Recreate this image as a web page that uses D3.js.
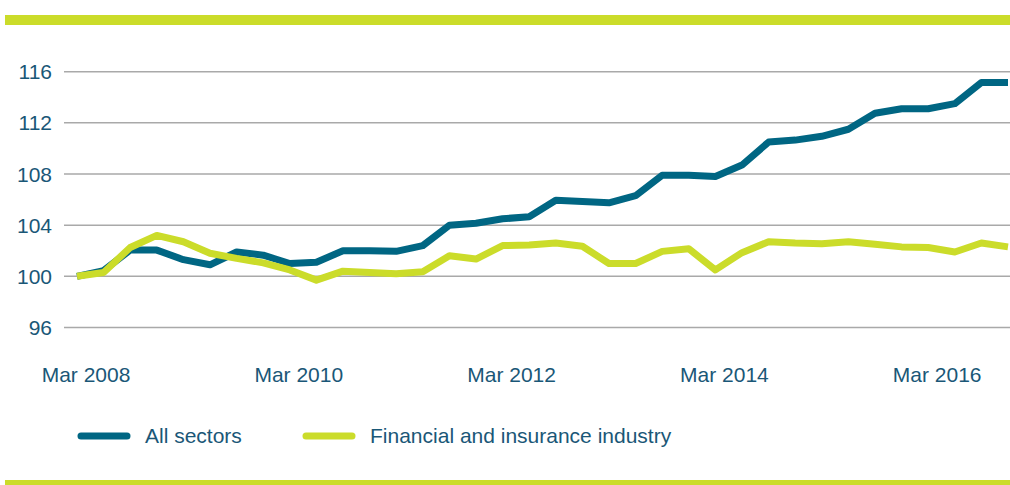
<!DOCTYPE html>
<html>
<head>
<meta charset="utf-8">
<script src="https://cdn.jsdelivr.net/npm/d3@7"></script>
<style>
  body { margin: 0; background: #fff; }
  svg text { font-family: "Liberation Sans", Arial, sans-serif; font-size: 21px; fill: #1a5777; }
</style>
</head>
<body>
<div id="chart"></div>
<script>
// quarterly index, Mar 2008 = 100
var quarters = [];
["2008","2009","2010","2011","2012","2013","2014","2015","2016"].forEach(function (y) {
    ["Mar","Jun","Sep","Dec"].forEach(function (m) { quarters.push(m + " " + y); });
});
var xTickLabels = ["Mar 2008", "Mar 2010", "Mar 2012", "Mar 2014", "Mar 2016"];
var yTicks = [96, 100, 104, 108, 112, 116];

var allSectors = [100.0, 100.45, 102.05, 102.05, 101.3, 100.9, 101.9, 101.65,
    101.0, 101.1, 102.0, 102.0, 101.95, 102.4, 104.0, 104.15,
    104.5, 104.65, 105.95, 105.85, 105.75, 106.3, 107.9, 107.9,
    107.8, 108.7, 110.5, 110.65, 110.95, 111.5, 112.75, 113.1,
    113.1, 113.5, 115.15, 115.15];
var financial = [100.0, 100.3, 102.25, 103.2, 102.7, 101.8, 101.4, 101.05,
    100.5, 99.7, 100.4, 100.3, 100.2, 100.35, 101.6, 101.35,
    102.4, 102.45, 102.6, 102.35, 101.0, 101.0, 101.95, 102.15,
    100.5, 101.85, 102.7, 102.6, 102.55, 102.7, 102.5, 102.3,
    102.25, 101.9, 102.6, 102.3];

var seriesNames = ["All sectors", "Financial and insurance industry"];
var seriesColors = ["#006683", "#cbdc2a"];

var W = 1010, H = 485;
var svg = d3.select("#chart").append("svg").attr("width", W).attr("height", H);

// frame bars
svg.append("rect").attr("x", 5).attr("y", 15).attr("width", W - 5).attr("height", 10).attr("fill", "#cbdc2a");
svg.append("rect").attr("x", 5).attr("y", 480).attr("width", W - 5).attr("height", 6).attr("fill", "#cbdc2a");

var x = d3.scalePoint().domain(quarters).range([77, 1008]);
var y = d3.scaleLinear().domain([100, 116]).range([276.3, 71.7]);

// gridlines + y labels
var yAxis = svg.append("g").attr("class", "y_axis");
yAxis.selectAll("line").data(yTicks).enter().append("line")
    .attr("x1", 64).attr("x2", W)
    .attr("y1", function (d) { return y(d); })
    .attr("y2", function (d) { return y(d); })
    .attr("stroke", "#a9a9a9").attr("stroke-width", 1.5);
yAxis.selectAll("text").data(yTicks).enter().append("text")
    .attr("x", 52).attr("y", function (d) { return y(d); })
    .attr("dy", "0.36em")
    .attr("text-anchor", "end")
    .text(function (d) { return d; });

// x labels
svg.append("g").attr("class", "x_axis").selectAll("text")
    .data(xTickLabels).enter().append("text")
    .attr("x", function (d) { return x(d) + 9; })
    .attr("y", 382)
    .attr("text-anchor", "middle")
    .text(function (d) { return d; });

// lines
var line = d3.line()
    .x(function (d, i) { return x(quarters[i]); })
    .y(function (d) { return y(d); });

[allSectors, financial].forEach(function (s, k) {
    svg.append("path")
        .datum(s)
        .attr("d", line)
        .attr("fill", "none")
        .attr("stroke", seriesColors[k])
        .attr("stroke-width", 7)
        .attr("stroke-linejoin", "round");
});

// legend
var legendX = [78, 303];
var lg = svg.append("g").attr("class", "legend");
seriesNames.forEach(function (name, k) {
    lg.append("line")
        .attr("x1", legendX[k] + 3).attr("x2", legendX[k] + 49)
        .attr("y1", 436).attr("y2", 436)
        .attr("stroke", seriesColors[k]).attr("stroke-width", 7)
        .attr("stroke-linecap", "round");
    lg.append("text")
        .attr("x", legendX[k] + 67).attr("y", 443)
        .text(name);
});
</script>
</body>
</html>
